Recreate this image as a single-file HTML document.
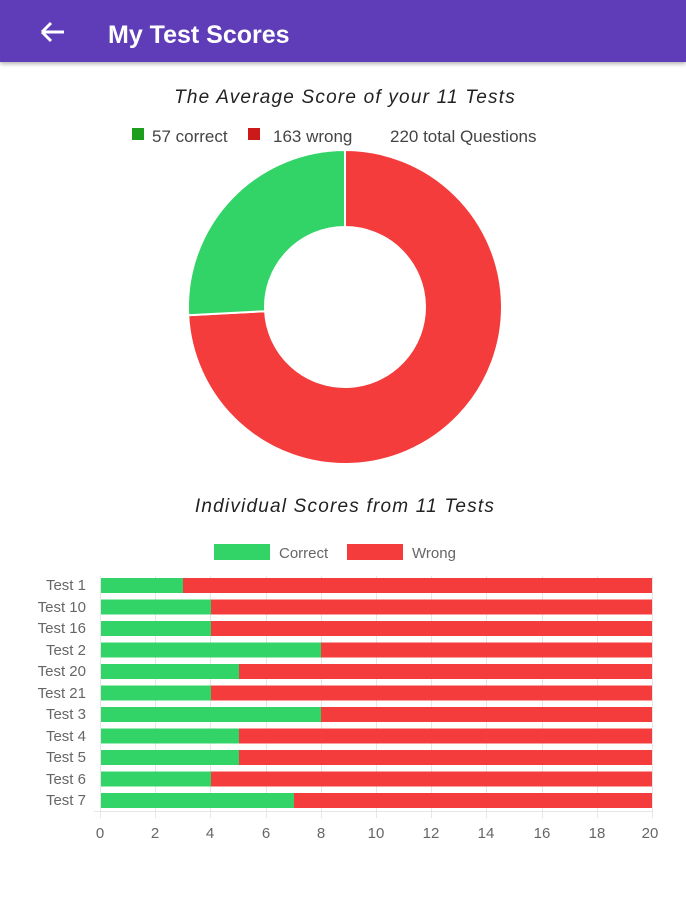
<!DOCTYPE html>
<html><head><meta charset="utf-8"><style>
body{margin:0;width:686px;height:900px;background:#fff;font-family:"Liberation Sans",sans-serif;overflow:hidden;position:relative}
.hdr{position:absolute;left:0;top:0;width:686px;height:62px;background:#5f3db8;box-shadow:0 2px 4px rgba(0,0,0,.3)}
</style></head><body>
<div class="hdr"></div>
<svg width="686" height="900" style="position:absolute;left:0;top:0">
<path d="M42 32 H64 M42 32 L51 23 M42 32 L51 41" stroke="#fff" stroke-width="3" fill="none"/>
<text x="108" y="43" fill="#fff" font-size="25" font-weight="bold">My Test Scores</text>
<text x="345" y="103" text-anchor="middle" font-size="19" font-style="italic" fill="#222" letter-spacing="1.2">The Average Score of your 11 Tests</text>
<rect x="132" y="128" width="12" height="12" fill="#1e9e1e"/>
<text x="152" y="142" font-size="17" fill="#444">57 correct</text>
<rect x="248" y="128" width="12" height="12" fill="#cc1a1a"/>
<text x="273" y="142" font-size="17" fill="#444">163 wrong</text>
<text x="390" y="142" font-size="17" fill="#444">220 total Questions</text>
<g transform="translate(345,307)">
<path d="M0,-157 A157,157 0 1 1 -156.8,8.2 L-79.9,4.2 A80,80 0 1 0 0,-80 Z" fill="#f43c3c" stroke="#fff" stroke-width="2"/>
<path d="M0,-157 A157,157 0 0 0 -156.8,8.2 L-79.9,4.2 A80,80 0 0 1 0,-80 Z" fill="#33d467" stroke="#fff" stroke-width="2"/>
</g>
<text x="345" y="512" text-anchor="middle" font-size="19" font-style="italic" fill="#222" letter-spacing="1.2">Individual Scores from 11 Tests</text>
<rect x="214" y="544" width="56" height="16" fill="#33d467"/>
<text x="279" y="558" font-size="15" fill="#666">Correct</text>
<rect x="347" y="544" width="56" height="16" fill="#f43c3c"/>
<text x="412" y="558" font-size="15" fill="#666">Wrong</text>
<g stroke="#e6e6e6" stroke-width="1">
<line x1="100.5" y1="576" x2="100.5" y2="818"/><line x1="155.5" y1="576" x2="155.5" y2="818"/><line x1="210.5" y1="576" x2="210.5" y2="818"/><line x1="266.5" y1="576" x2="266.5" y2="818"/><line x1="321.5" y1="576" x2="321.5" y2="818"/><line x1="376.5" y1="576" x2="376.5" y2="818"/><line x1="431.5" y1="576" x2="431.5" y2="818"/><line x1="486.5" y1="576" x2="486.5" y2="818"/><line x1="542.5" y1="576" x2="542.5" y2="818"/><line x1="597.5" y1="576" x2="597.5" y2="818"/><line x1="652.5" y1="576" x2="652.5" y2="818"/>
<line x1="94" y1="811.5" x2="652" y2="811.5"/>
</g>
<g font-size="15" fill="#666" text-anchor="end">
<text x="86" y="590">Test 1</text><text x="86" y="612">Test 10</text><text x="86" y="633">Test 16</text><text x="86" y="655">Test 2</text><text x="86" y="676">Test 20</text><text x="86" y="698">Test 21</text><text x="86" y="719">Test 3</text><text x="86" y="741">Test 4</text><text x="86" y="762">Test 5</text><text x="86" y="784">Test 6</text><text x="86" y="805">Test 7</text>
</g>
<g>
<rect x="101" y="578" width="551" height="15" fill="#f43c3c"/><rect x="101" y="578" width="82" height="15" fill="#33d467"/>
<rect x="101" y="599.5" width="551" height="15" fill="#f43c3c"/><rect x="101" y="599.5" width="110" height="15" fill="#33d467"/>
<rect x="101" y="621" width="551" height="15" fill="#f43c3c"/><rect x="101" y="621" width="110" height="15" fill="#33d467"/>
<rect x="101" y="642.5" width="551" height="15" fill="#f43c3c"/><rect x="101" y="642.5" width="220" height="15" fill="#33d467"/>
<rect x="101" y="664" width="551" height="15" fill="#f43c3c"/><rect x="101" y="664" width="138" height="15" fill="#33d467"/>
<rect x="101" y="685.5" width="551" height="15" fill="#f43c3c"/><rect x="101" y="685.5" width="110" height="15" fill="#33d467"/>
<rect x="101" y="707" width="551" height="15" fill="#f43c3c"/><rect x="101" y="707" width="220" height="15" fill="#33d467"/>
<rect x="101" y="728.5" width="551" height="15" fill="#f43c3c"/><rect x="101" y="728.5" width="138" height="15" fill="#33d467"/>
<rect x="101" y="750" width="551" height="15" fill="#f43c3c"/><rect x="101" y="750" width="138" height="15" fill="#33d467"/>
<rect x="101" y="771.5" width="551" height="15" fill="#f43c3c"/><rect x="101" y="771.5" width="110" height="15" fill="#33d467"/>
<rect x="101" y="793" width="551" height="15" fill="#f43c3c"/><rect x="101" y="793" width="193" height="15" fill="#33d467"/>
</g>
<g font-size="15" fill="#666" text-anchor="middle">
<text x="100" y="838">0</text><text x="155" y="838">2</text><text x="210" y="838">4</text><text x="266" y="838">6</text><text x="321" y="838">8</text><text x="376" y="838">10</text><text x="431" y="838">12</text><text x="486" y="838">14</text><text x="542" y="838">16</text><text x="597" y="838">18</text><text x="650" y="838">20</text>
</g>
</svg>
</body></html>
